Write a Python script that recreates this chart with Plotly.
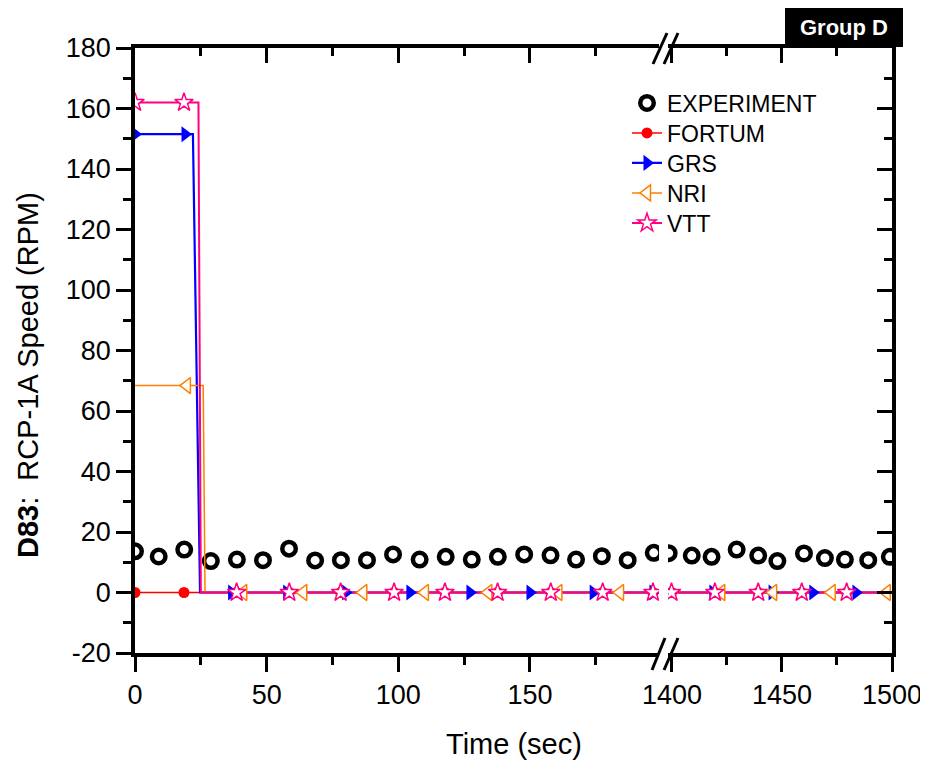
import plotly.graph_objects as go

# ---------------- data ----------------
EXP_T = [0, 9, 18.7, 28.8, 38.7, 48.6, 58.5, 68.4, 78.2, 88.1, 98, 108.1, 118, 127.9,
         137.8, 147.8, 157.8, 167.5, 177.3, 187.1, 197,
         1398.5, 1409, 1418, 1429.4, 1439.2, 1447.9, 1460, 1469.5, 1478.6, 1489.2, 1499]
EXP_V = [13.6, 11.9, 14.2, 10.4, 10.9, 10.7, 14.5, 10.6, 10.7, 10.7, 12.6, 10.9, 11.8, 10.9,
         11.8, 12.6, 12.3, 10.9, 12.0, 10.7, 13.1,
         13.0, 12.2, 11.8, 14.2, 12.2, 10.4, 12.9, 11.4, 10.9, 10.7, 11.8]

FORTUM_LINE_T = [0, 1500]
FORTUM_LINE_V = [0, 0]
FORTUM_MK_T = [0, 18.6, 38.6, 58.6, 78.1, 98.4, 117.7, 137.7, 157.9, 177.6, 196.7,
               1399.8, 1419.5, 1439.2, 1459, 1479.4]
FORTUM_MK_V = [0] * len(FORTUM_MK_T)

GRS_LINE_T = [0, 22, 24.7, 1500]
GRS_LINE_V = [151.5, 151.5, 0, 0]
GRS_MK_T = [0, 19, 36.7, 57.6, 80, 104.4, 127.2, 150, 174, 196.7, 1418.6, 1445.5, 1464, 1483.6]
GRS_MK_V = [151.5, 151.5, 0, 0, 0, 0, 0, 0, 0, 0, 0, 0, 0, 0]

NRI_LINE_T = [0, 25.9, 26.6, 1500]
NRI_LINE_V = [68.4, 68.4, 0, 0]
NRI_MK_T = [19.7, 41.1, 63.9, 86.7, 110.1, 134.2, 160.8, 184.2, 1422.4, 1446, 1472.6, 1497.6]
NRI_MK_V = [68.4, 0, 0, 0, 0, 0, 0, 0, 0, 0, 0, 0]

VTT_LINE_T = [0, 24.1, 25, 1500]
VTT_LINE_V = [162, 162, 0, 0]
VTT_MK_T = [0, 18.6, 38.6, 58.6, 78.1, 98.4, 117.7, 137.7, 157.9, 177.6, 196.7,
            1399.8, 1419.5, 1439.2, 1459, 1479.4]
VTT_MK_V = [162, 162, 0, 0, 0, 0, 0, 0, 0, 0, 0, 0, 0, 0, 0, 0]

SERIES = ["EXPERIMENT", "FORTUM", "GRS", "NRI", "VTT"]
X_TICKS_LEFT = [0, 50, 100, 150]
X_TICKS_RIGHT = [1400, 1450, 1500]
Y_TICKS = [-20, 0, 20, 40, 60, 80, 100, 120, 140, 160, 180]
Y_TICK_TEXT = ["-20", "0", "20", "40", "60", "80", "100", "120", "140", "160", "180"]

# ---------------- styling ----------------
FONT = "Liberation Sans, Arial, sans-serif"
W, H = 928, 767          # browser window
OFF = 8                  # default page body margin
L, R, T, B = 135, 892, 48, 653   # plot area in page pixels
FIG_W, FIG_H = W - OFF, H - OFF


def px(xp):
    return (xp - L) / (R - L)


def py(yp):
    return (B - yp) / (B - T)


styles = {
    "FORTUM": dict(color="#FF0000", lw=1.5,
                   marker=dict(symbol="circle", size=11, color="#FF0000", line=dict(width=0))),
    "GRS": dict(color="#0000FF", lw=2.2,
                marker=dict(symbol="triangle-right", size=14, color="#0000FF", line=dict(width=0))),
    "NRI": dict(color="#FF8000", lw=1.5,
                marker=dict(symbol="triangle-left", size=14, color="white",
                            line=dict(width=1.5, color="#FF8000"))),
    "VTT": dict(color="#FF0080", lw=2.0,
                marker=dict(symbol="star", size=14, color="white",
                            line=dict(width=1.5, color="#FF0080"))),
}
lines = {
    "FORTUM": (FORTUM_LINE_T, FORTUM_LINE_V, FORTUM_MK_T, FORTUM_MK_V),
    "GRS": (GRS_LINE_T, GRS_LINE_V, GRS_MK_T, GRS_MK_V),
    "NRI": (NRI_LINE_T, NRI_LINE_V, NRI_MK_T, NRI_MK_V),
    "VTT": (VTT_LINE_T, VTT_LINE_V, VTT_MK_T, VTT_MK_V),
}

fig = go.Figure()

exp_marker = dict(symbol="circle", size=13.5, color="white", line=dict(width=4.5, color="black"))

# legend entries, each in its own legend box so rows can be placed exactly
legend_ids = ["legend", "legend2", "legend3", "legend4", "legend5"]
fig.add_trace(go.Scatter(x=[None], y=[None], mode="markers", name="EXPERIMENT",
                         marker=exp_marker, legendgroup="EXPERIMENT", legend=legend_ids[0]))
for i, name in enumerate(["FORTUM", "GRS", "NRI", "VTT"]):
    st = styles[name]
    fig.add_trace(go.Scatter(x=[None], y=[None], mode="lines+markers", name=name,
                             line=dict(color=st["color"], width=st["lw"]),
                             marker=st["marker"], legendgroup=name, legend=legend_ids[i + 1]))

for xa in ["x", "x2"]:
    fig.add_trace(go.Scatter(x=EXP_T, y=EXP_V, mode="markers", marker=exp_marker,
                             xaxis=xa, yaxis="y", showlegend=False, hoverinfo="x+y"))
    for name in ["FORTUM", "GRS", "NRI", "VTT"]:
        st = styles[name]
        lt, lv, mt, mv = lines[name]
        fig.add_trace(go.Scatter(x=lt, y=lv, mode="lines",
                                 line=dict(color=st["color"], width=st["lw"]),
                                 xaxis=xa, yaxis="y", showlegend=False, legendgroup=name))
    for name in ["FORTUM", "GRS", "NRI", "VTT"]:
        st = styles[name]
        lt, lv, mt, mv = lines[name]
        fig.add_trace(go.Scatter(x=mt, y=mv, mode="markers", marker=st["marker"],
                                 xaxis=xa, yaxis="y", showlegend=False, legendgroup=name))

# empty traces so that the frame axes (top / right) get drawn
for xa, ya in [("x3", "y"), ("x4", "y"), ("x2", "y2")]:
    fig.add_trace(go.Scatter(x=[], y=[], xaxis=xa, yaxis=ya, showlegend=False,
                             hoverinfo="skip", mode="markers"))

LEFT_DOM = [0, px(659)]
RIGHT_DOM = [px(668), 1]
LEFT_RANGE = [0, 199]
RIGHT_RANGE = [1398.2, 1500]

tickfont = dict(family=FONT, size=27, color="black")
common_x = dict(showline=True, linewidth=3.5, linecolor="black", ticks="outside", ticklen=15,
                tickwidth=3, tickcolor="black", showgrid=False, zeroline=False,
                tickfont=tickfont, automargin=False,
                minor=dict(ticks="outside", ticklen=8, tickwidth=3, tickcolor="black", dtick=25,
                           showgrid=False))
top_x = dict(showline=True, linewidth=3.5, linecolor="black", ticks="inside", ticklen=15,
             tickwidth=3, tickcolor="black", showgrid=False, zeroline=False,
             showticklabels=False, side="top", automargin=False,
             minor=dict(ticks="inside", ticklen=8, tickwidth=3, tickcolor="black", dtick=25,
                        showgrid=False))

legend_rows_y = [103, 133, 163, 193, 223]
legend_font = dict(family=FONT, size=23, color="black")
legend_layout = {}
for lid, yrow in zip(legend_ids, legend_rows_y):
    legend_layout[lid] = dict(x=px(627), y=py(yrow), xanchor="left", yanchor="middle",
                              bgcolor="rgba(0,0,0,0)", borderwidth=0, font=legend_font)

fig.update_layout(
    width=FIG_W, height=FIG_H,
    margin=dict(l=L - OFF, r=FIG_W + OFF - R, t=T - OFF, b=FIG_H + OFF - B, autoexpand=False),
    paper_bgcolor="white", plot_bgcolor="white",
    font=dict(family=FONT, color="black"),
    xaxis=dict(domain=LEFT_DOM, range=LEFT_RANGE, anchor="y", tickvals=X_TICKS_LEFT, **common_x),
    xaxis2=dict(domain=RIGHT_DOM, range=RIGHT_RANGE, anchor="y", tickvals=X_TICKS_RIGHT, **common_x),
    xaxis3=dict(domain=LEFT_DOM, range=LEFT_RANGE, anchor="y", overlaying="x",
                tickvals=X_TICKS_LEFT, **top_x),
    xaxis4=dict(domain=RIGHT_DOM, range=RIGHT_RANGE, anchor="y", overlaying="x2",
                tickvals=X_TICKS_RIGHT, **top_x),
    yaxis=dict(domain=[0, 1], range=[-20, 180], anchor="x", tickvals=Y_TICKS,
               ticktext=Y_TICK_TEXT, automargin=False,
               showline=True, linewidth=3.5, linecolor="black", ticks="outside", ticklen=15,
               tickwidth=3, tickcolor="black", showgrid=False, zeroline=False, tickfont=tickfont,
               minor=dict(ticks="outside", ticklen=8, tickwidth=3, tickcolor="black", dtick=10,
                          showgrid=False)),
    yaxis2=dict(range=[-20, 180], anchor="x2", overlaying="y", side="right", tickvals=Y_TICKS,
                showline=True, linewidth=3.5, linecolor="black", ticks="inside", ticklen=15,
                tickwidth=3, tickcolor="black", showgrid=False, zeroline=False,
                showticklabels=False, automargin=False,
                minor=dict(ticks="inside", ticklen=8, tickwidth=3, tickcolor="black", dtick=10,
                           showgrid=False)),
    showlegend=True,
    **legend_layout,
)

# axis titles
fig.add_annotation(text="Time (sec)", xref="paper", yref="paper", x=0.5, y=py(744),
                   xanchor="center", yanchor="middle", showarrow=False,
                   font=dict(family=FONT, size=29, color="black"))
fig.add_annotation(text="<b>D83</b>:\u00a0 RCP-1A Speed (RPM)", xref="paper", yref="paper",
                   x=px(28), y=py(375), xanchor="center", yanchor="middle", textangle=-90,
                   showarrow=False, font=dict(family=FONT, size=29, color="black"))

# Group D label
fig.add_shape(type="rect", xref="paper", yref="paper", x0=px(785), x1=px(903),
              y0=py(47), y1=py(8), fillcolor="black", line=dict(width=0))
fig.add_annotation(text="<b>Group D</b>", xref="paper", yref="paper",
                   x=(px(785) + px(903)) / 2, y=(py(47) + py(8)) / 2,
                   xanchor="center", yanchor="middle", showarrow=False,
                   font=dict(family=FONT, size=22, color="white"))

# axis break marks
for (x0, y0, x1, y1) in [(653, 64, 667, 33), (664, 64, 678, 33),
                         (652, 670, 665, 638), (664, 670, 678, 638)]:
    fig.add_shape(type="line", xref="paper", yref="paper", x0=px(x0), y0=py(y0),
                  x1=px(x1), y1=py(y1), line=dict(color="black", width=3))

fig.write_html("out.html")
